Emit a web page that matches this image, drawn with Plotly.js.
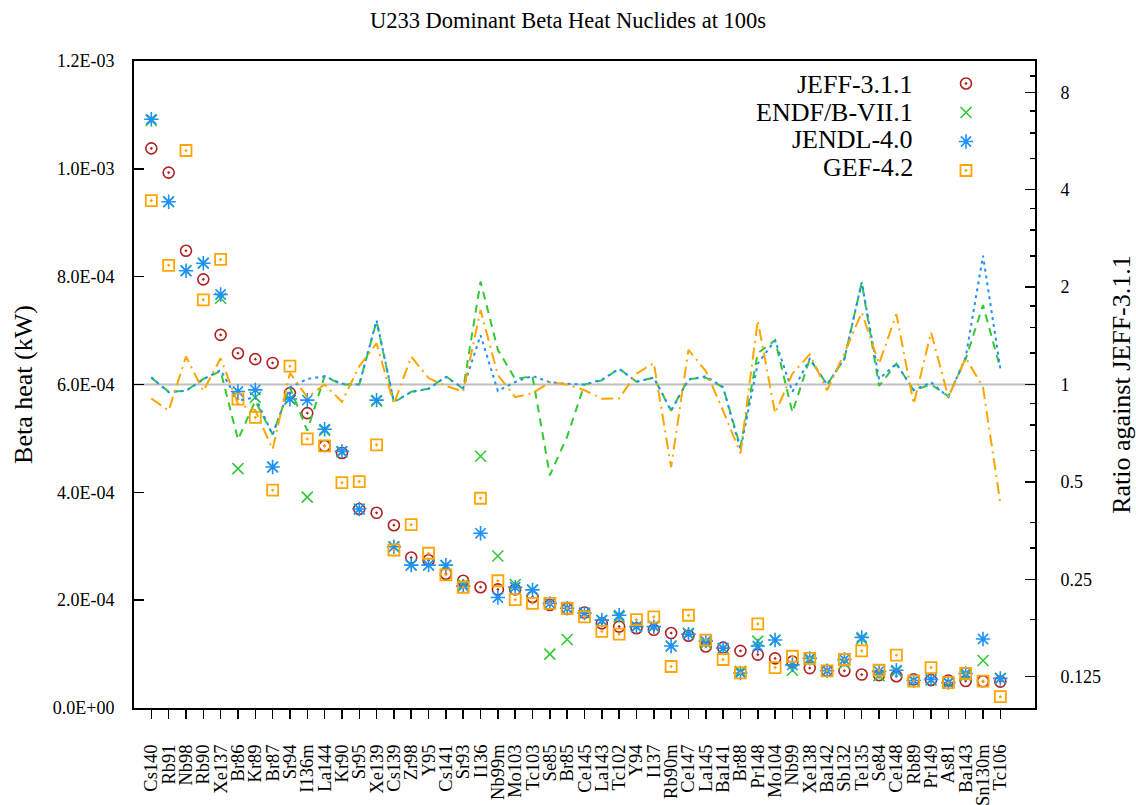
<!DOCTYPE html>
<html>
<head>
<meta charset="utf-8">
<script src="https://cdn.plot.ly/plotly-3.0.1.min.js"></script>
<style>html,body{margin:0;padding:0;background:#fff;}#chart{width:1136px;height:805px;}</style>
</head>
<body>
<div id="chart"></div>
<script>
const nuclides = ["Cs140","Rb91","Nb98","Rb90","Xe137","Br86","Kr89","Br87","Sr94","I136m","La144","Kr90","Sr95","Xe139","Cs139","Zr98","Y95","Cs141","Sr93","I136","Nb99m","Mo103","Tc103","Se85","Br85","Ce145","La143","Tc102","Y94","I137","Rb90m","Ce147","La145","Ba141","Br88","Pr148","Mo104","Nb99","Xe138","Ba142","Sb132","Te135","Se84","Ce148","Rb89","Pr149","As81","Ba143","Sn130m","Tc106"];

// Beta heat (kW)
const jeff  = [10.38e-4,9.93e-4,8.48e-4,7.95e-4,6.92e-4,6.58e-4,6.47e-4,6.40e-4,5.84e-4,5.47e-4,4.86e-4,4.73e-4,3.69e-4,3.62e-4,3.39e-4,2.79e-4,2.74e-4,2.49e-4,2.36e-4,2.24e-4,2.20e-4,2.20e-4,2.06e-4,1.91e-4,1.84e-4,1.77e-4,1.57e-4,1.51e-4,1.48e-4,1.45e-4,1.39e-4,1.34e-4,1.14e-4,1.12e-4,1.06e-4,0.99e-4,0.92e-4,0.86e-4,0.74e-4,0.69e-4,0.69e-4,0.62e-4,0.61e-4,0.59e-4,0.53e-4,0.52e-4,0.51e-4,0.50e-4,0.495e-4,0.49e-4];
const endf  = [10.9e-4,9.39e-4,8.11e-4,8.25e-4,7.6e-4,4.44e-4,5.76e-4,4.47e-4,5.73e-4,3.91e-4,5.15e-4,4.75e-4,3.69e-4,5.69e-4,2.99e-4,2.65e-4,2.65e-4,2.64e-4,2.29e-4,4.67e-4,2.82e-4,2.29e-4,2.19e-4,1.00e-4,1.27e-4,1.76e-4,1.62e-4,1.69e-4,1.51e-4,1.52e-4,1.15e-4,1.39e-4,1.20e-4,1.10e-4,0.68e-4,1.24e-4,1.26e-4,0.70e-4,0.89e-4,0.69e-4,0.83e-4,1.28e-4,0.60e-4,0.68e-4,0.51e-4,0.52e-4,0.47e-4,0.60e-4,0.88e-4,0.55e-4];
const jendl = [10.92e-4,9.39e-4,8.11e-4,8.25e-4,7.67e-4,5.87e-4,5.90e-4,4.47e-4,5.73e-4,5.71e-4,5.17e-4,4.76e-4,3.69e-4,5.71e-4,2.99e-4,2.65e-4,2.65e-4,2.65e-4,2.26e-4,3.24e-4,2.05e-4,2.24e-4,2.19e-4,1.94e-4,1.85e-4,1.76e-4,1.63e-4,1.72e-4,1.51e-4,1.51e-4,1.15e-4,1.37e-4,1.24e-4,1.11e-4,0.65e-4,1.15e-4,1.26e-4,0.80e-4,0.92e-4,0.69e-4,0.90e-4,1.31e-4,0.68e-4,0.70e-4,0.51e-4,0.53e-4,0.47e-4,0.64e-4,1.28e-4,0.55e-4];
const gef   = [9.41e-4,8.21e-4,10.34e-4,7.57e-4,8.32e-4,5.73e-4,5.39e-4,4.04e-4,6.34e-4,4.99e-4,4.86e-4,4.18e-4,4.20e-4,4.88e-4,2.93e-4,3.40e-4,2.87e-4,2.47e-4,2.24e-4,3.89e-4,2.36e-4,2.01e-4,1.94e-4,1.94e-4,1.85e-4,1.69e-4,1.42e-4,1.37e-4,1.64e-4,1.69e-4,0.77e-4,1.72e-4,1.26e-4,0.90e-4,0.65e-4,1.56e-4,0.75e-4,0.96e-4,0.92e-4,0.69e-4,0.90e-4,1.06e-4,0.70e-4,0.98e-4,0.50e-4,0.75e-4,0.47e-4,0.64e-4,0.50e-4,0.21e-4];

// Ratio against JEFF-3.1.1 (right axis)
const ratioEndf  = [1.05,0.95,0.956,1.04,1.10,0.675,0.89,0.70,0.98,0.72,1.06,1.0,1.0,1.57,0.88,0.95,0.97,1.06,0.97,2.08,1.28,1.04,1.06,0.524,0.69,1.0,1.03,1.12,1.02,1.05,0.83,1.04,1.05,0.98,0.64,1.25,1.37,0.82,1.2,1.0,1.2,2.07,0.99,1.16,0.96,1.0,0.92,1.2,1.76,1.12];
const ratioJendl = [1.052,0.946,0.956,1.038,1.108,0.892,0.912,0.70,0.98,1.04,1.06,1.006,1.0,1.577,0.885,0.947,0.97,1.055,0.975,1.42,0.955,1.018,1.063,1.016,1.005,1.0,1.035,1.118,1.02,1.05,0.83,1.035,1.06,0.98,0.63,1.16,1.37,0.95,1.2,1.0,1.2,2.07,1.04,1.16,0.96,1.016,0.914,1.214,2.5,1.118];
const ratioGef   = [0.905,0.83,1.22,0.955,1.205,0.871,0.833,0.631,1.086,0.912,1.0,0.884,1.138,1.34,0.87,1.219,1.047,0.99,0.95,1.70,1.07,0.914,0.94,1.016,1.0,0.96,0.904,0.906,1.08,1.166,0.555,1.28,1.10,0.83,0.613,1.576,0.815,1.08,1.24,0.96,1.25,1.67,1.16,1.65,0.87,1.45,0.914,1.21,0.98,0.43];

const leftTickVals = [0, 2e-4, 4e-4, 6e-4, 8e-4, 10e-4, 12e-4];
const leftTickText = ["0.0E+00","2.0E-04","4.0E-04","6.0E-04","8.0E-04","1.0E-03","1.2E-03"];
const rightTickVals = [0.125, 0.25, 0.5, 1, 2, 4, 8];
const rightTickText = ["0.125","0.25","0.5","1","2","4","8"];
const rightMinorVals = [0.1875, 0.3125, 0.375, 0.625, 0.75, 0.875, 1.25, 1.5, 1.75, 2.5, 3, 3.5, 5, 6, 7, 9];
const seriesNames = ["JEFF-3.1.1","ENDF/B-VII.1","JENDL-4.0","GEF-4.2"];

const FONT = "Liberation Serif, Times New Roman, serif";
const cRed = "#b22222", cGreen = "#33c833", cBlue = "#1e90ff", cOrange = "#ffa500";

const traces = [
  {x: nuclides, y: ratioEndf, yaxis: "y2", type: "scatter", mode: "lines", showlegend: false, hoverinfo: "skip",
   line: {color: cGreen, width: 2, dash: "8px,6px"}},
  {x: nuclides, y: ratioJendl, yaxis: "y2", type: "scatter", mode: "lines", showlegend: false, hoverinfo: "skip",
   line: {color: cBlue, width: 2, dash: "3px,4px"}},
  {x: nuclides, y: ratioGef, yaxis: "y2", type: "scatter", mode: "lines", showlegend: false, hoverinfo: "skip",
   line: {color: cOrange, width: 2, dash: "12px,5px,2px,5px"}},
  {x: nuclides, y: jeff, name: " ", type: "scatter", mode: "markers",
   marker: {symbol: "circle-open-dot", size: 11, color: cRed, line: {width: 1.6, color: cRed}}},
  {x: nuclides, y: endf, name: " ", type: "scatter", mode: "markers",
   marker: {symbol: "x-thin-open", size: 11, color: cGreen, line: {width: 1.6, color: cGreen}}},
  {x: nuclides, y: jendl, name: " ", type: "scatter", mode: "markers",
   marker: {symbol: "asterisk-open", size: 12, color: cBlue, line: {width: 1.6, color: cBlue}}},
  {x: nuclides, y: gef, name: " ", type: "scatter", mode: "markers",
   marker: {symbol: "square-open-dot", size: 11, color: cOrange, line: {width: 1.8, color: cOrange}}}
];

const plotL = 134, plotR = 1035, plotT = 61, plotB = 708;
const pw = plotR - plotL, ph = plotB - plotT;
const px2x = p => (p - plotL) / pw;
const px2y = p => 1 - (p - plotT) / ph;
const legendRows = [84, 112, 139, 167];

const layout = {
  width: 1136, height: 805,
  margin: {l: plotL, r: 1136 - plotR, t: plotT, b: 805 - plotB, pad: 0},
  paper_bgcolor: "#fff", plot_bgcolor: "#fff",
  font: {family: FONT, color: "#000", size: 18},
  title: {text: "U233 Dominant Beta Heat Nuclides at 100s", font: {family: FONT, size: 22.5, color: "#000"},
          x: 0.5, xref: "container", y: 1 - 20/805, yref: "container", yanchor: "middle"},
  showlegend: true,
  legend: {x: px2x(946), y: px2y(64), xanchor: "left", yanchor: "top", bgcolor: "rgba(0,0,0,0)",
           font: {family: FONT, size: 20}, itemwidth: 30, tracegroupgap: 0, borderwidth: 0},
  xaxis: {type: "category", categoryorder: "array", categoryarray: nuclides, range: [-1, 51],
          tickmode: "linear", tick0: 0, dtick: 1,
          showgrid: false, zeroline: false, showline: true, linecolor: "#000", linewidth: 2, mirror: true,
          ticks: "outside", ticklen: 9, tickwidth: 1.5, tickcolor: "#000", tickangle: -90,
          tickfont: {family: FONT, size: 18.5, color: "#000"}, ticklabelstandoff: 18},
  yaxis: {range: [0, 12e-4], tickmode: "array", tickvals: leftTickVals, ticktext: leftTickText,
          showgrid: false, zeroline: false, showline: true, linecolor: "#000", linewidth: 2, mirror: true,
          ticks: "inside", ticklen: 10, tickwidth: 1.5, tickcolor: "#000",
          tickfont: {family: FONT, size: 18, color: "#000"}, ticklabelstandoff: 14,
          title: {text: "Beta heat (kW)", font: {family: FONT, size: 26, color: "#000"}, standoff: 13}},
  yaxis2: {type: "log", range: [-1, 1], overlaying: "y", side: "right", tickmode: "array",
           tickvals: rightTickVals, ticktext: rightTickText,
           showgrid: false, zeroline: false, showline: true, linecolor: "#000", linewidth: 2,
           ticks: "inside", ticklen: 10, tickwidth: 1.5, tickcolor: "#000",
           minor: {ticks: "inside", ticklen: 5, tickwidth: 1.5, tickcolor: "#000", tickmode: "array", tickvals: rightMinorVals, showgrid: false},
           tickfont: {family: FONT, size: 18, color: "#000"}, ticklabelstandoff: 20,
           title: {text: "Ratio against JEFF-3.1.1", font: {family: FONT, size: 26, color: "#000"}, standoff: 16}},
  shapes: [{type: "line", xref: "paper", x0: 0, x1: 1, yref: "y2", y0: 1, y1: 1, layer: "below",
            line: {color: "#c0c0c0", width: 2}}],
  annotations: seriesNames.map((n, i) => ({text: n, xref: "paper", yref: "paper", x: px2x(915), y: px2y(legendRows[i]),
            xanchor: "right", yanchor: "middle", showarrow: false, font: {family: FONT, size: 26, color: "#000"}}))
};

Plotly.newPlot("chart", traces, layout, {displayModeBar: false, staticPlot: true});
</script>
</body>
</html>
